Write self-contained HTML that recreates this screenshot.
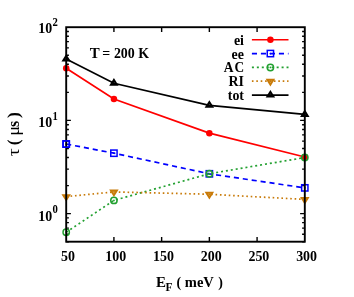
<!DOCTYPE html>
<html><head><meta charset="utf-8"><title>chart</title>
<style>html,body{margin:0;padding:0;background:#fff;}body{width:354px;height:297px;position:relative;overflow:hidden;font-family:"Liberation Serif",serif;}</style>
</head><body>
<svg width="354" height="297" viewBox="0 0 354 297" style="position:absolute;left:0;top:0;will-change:transform">
<rect width="354" height="297" fill="#fff"/>
<path d="M113.92,241.7 V237.0 M113.92,27.2 V31.9 M161.64,241.7 V237.0 M161.64,27.2 V31.9 M209.36,241.7 V237.0 M209.36,27.2 V31.9 M257.08,241.7 V237.0 M257.08,27.2 V31.9 M66.2,241.70 H68.9 M304.8,241.70 H302.1 M66.2,234.32 H68.9 M304.8,234.32 H302.1 M66.2,228.08 H68.9 M304.8,228.08 H302.1 M66.2,222.67 H68.9 M304.8,222.67 H302.1 M66.2,217.90 H68.9 M304.8,217.90 H302.1 M66.2,213.64 H70.9 M304.8,213.64 H300.1 M66.2,185.58 H68.9 M304.8,185.58 H302.1 M66.2,169.16 H68.9 M304.8,169.16 H302.1 M66.2,157.51 H68.9 M304.8,157.51 H302.1 M66.2,148.48 H68.9 M304.8,148.48 H302.1 M66.2,141.10 H68.9 M304.8,141.10 H302.1 M66.2,134.86 H68.9 M304.8,134.86 H302.1 M66.2,129.45 H68.9 M304.8,129.45 H302.1 M66.2,124.68 H68.9 M304.8,124.68 H302.1 M66.2,120.42 H70.9 M304.8,120.42 H300.1 M66.2,92.36 H68.9 M304.8,92.36 H302.1 M66.2,75.94 H68.9 M304.8,75.94 H302.1 M66.2,64.30 H68.9 M304.8,64.30 H302.1 M66.2,55.26 H68.9 M304.8,55.26 H302.1 M66.2,47.88 H68.9 M304.8,47.88 H302.1 M66.2,41.64 H68.9 M304.8,41.64 H302.1 M66.2,36.23 H68.9 M304.8,36.23 H302.1 M66.2,31.47 H68.9 M304.8,31.47 H302.1" stroke="#000" stroke-width="1.4" fill="none"/>
<path d="M66.20,68.34 L113.92,98.94 L209.36,133.16 L304.80,157.01" stroke="#ff0000" stroke-width="1.7" fill="none"/>
<circle cx="66.20" cy="68.34" r="3.25" fill="#ff0000"/>
<circle cx="113.92" cy="98.94" r="3.25" fill="#ff0000"/>
<circle cx="209.36" cy="133.16" r="3.25" fill="#ff0000"/>
<circle cx="304.80" cy="157.01" r="3.25" fill="#ff0000"/>
<path d="M66.20,144.04 L113.92,153.20 L209.36,173.80 L304.80,187.87" stroke="#0000ff" stroke-width="1.7" fill="none" stroke-dasharray="5.1 3.9"/>
<rect x="63.05" y="140.89" width="6.30" height="6.30" fill="none" stroke="#0000ff" stroke-width="1.5"/><circle cx="66.20" cy="144.04" r="0.9" fill="#0000ff"/>
<rect x="110.77" y="150.05" width="6.30" height="6.30" fill="none" stroke="#0000ff" stroke-width="1.5"/><circle cx="113.92" cy="153.20" r="0.9" fill="#0000ff"/>
<rect x="206.21" y="170.65" width="6.30" height="6.30" fill="none" stroke="#0000ff" stroke-width="1.5"/><circle cx="209.36" cy="173.80" r="0.9" fill="#0000ff"/>
<rect x="301.65" y="184.72" width="6.30" height="6.30" fill="none" stroke="#0000ff" stroke-width="1.5"/><circle cx="304.80" cy="187.87" r="0.9" fill="#0000ff"/>
<path d="M66.20,232.22 L113.92,200.39 L209.36,173.73 L304.80,157.51" stroke="#22a030" stroke-width="1.7" fill="none" stroke-dasharray="2.0 2.95"/>
<circle cx="66.20" cy="232.22" r="3.2" fill="none" stroke="#22a030" stroke-width="1.45"/><circle cx="66.20" cy="232.22" r="0.9" fill="#22a030"/>
<circle cx="113.92" cy="200.39" r="3.2" fill="none" stroke="#22a030" stroke-width="1.45"/><circle cx="113.92" cy="200.39" r="0.9" fill="#22a030"/>
<circle cx="209.36" cy="173.73" r="3.2" fill="none" stroke="#22a030" stroke-width="1.45"/><circle cx="209.36" cy="173.73" r="0.9" fill="#22a030"/>
<circle cx="304.80" cy="157.51" r="3.2" fill="none" stroke="#22a030" stroke-width="1.45"/><circle cx="304.80" cy="157.51" r="0.9" fill="#22a030"/>
<path d="M66.20,196.61 L113.92,191.92 L209.36,194.23 L304.80,199.44" stroke="#c87a08" stroke-width="1.7" fill="none" stroke-dasharray="1.6 2.8"/>
<path d="M63.25,195.13 L69.15,195.13 L66.20,199.91 Z" fill="none" stroke="#c87a08" stroke-width="2.0" stroke-linejoin="miter"/><circle cx="66.20" cy="196.61" r="0.9" fill="#c87a08"/>
<path d="M110.97,190.44 L116.87,190.44 L113.92,195.22 Z" fill="none" stroke="#c87a08" stroke-width="2.0" stroke-linejoin="miter"/><circle cx="113.92" cy="191.92" r="0.9" fill="#c87a08"/>
<path d="M206.41,192.76 L212.31,192.76 L209.36,197.54 Z" fill="none" stroke="#c87a08" stroke-width="2.0" stroke-linejoin="miter"/><circle cx="209.36" cy="194.23" r="0.9" fill="#c87a08"/>
<path d="M301.85,197.97 L307.75,197.97 L304.80,202.75 Z" fill="none" stroke="#c87a08" stroke-width="2.0" stroke-linejoin="miter"/><circle cx="304.80" cy="199.44" r="0.9" fill="#c87a08"/>
<path d="M66.20,59.08 L113.92,83.32 L209.36,105.38 L304.80,114.41" stroke="#000000" stroke-width="1.7" fill="none"/>
<path d="M63.25,60.55 L69.15,60.55 L66.20,55.78 Z" fill="none" stroke="#000000" stroke-width="2.0" stroke-linejoin="miter"/><circle cx="66.20" cy="59.08" r="0.9" fill="#000000"/>
<path d="M110.97,84.80 L116.87,84.80 L113.92,80.02 Z" fill="none" stroke="#000000" stroke-width="2.0" stroke-linejoin="miter"/><circle cx="113.92" cy="83.32" r="0.9" fill="#000000"/>
<path d="M206.41,106.85 L212.31,106.85 L209.36,102.07 Z" fill="none" stroke="#000000" stroke-width="2.0" stroke-linejoin="miter"/><circle cx="209.36" cy="105.38" r="0.9" fill="#000000"/>
<path d="M301.85,115.89 L307.75,115.89 L304.80,111.11 Z" fill="none" stroke="#000000" stroke-width="2.0" stroke-linejoin="miter"/><circle cx="304.80" cy="114.41" r="0.9" fill="#000000"/>
<path d="M251.9,39.75 H288.5" stroke="#ff0000" stroke-width="1.7" fill="none"/>
<circle cx="270.40" cy="39.75" r="3.25" fill="#ff0000"/>
<path d="M251.9,53.55 H288.5" stroke="#0000ff" stroke-width="1.7" fill="none" stroke-dasharray="5.1 3.9"/>
<rect x="267.25" y="50.40" width="6.30" height="6.30" fill="none" stroke="#0000ff" stroke-width="1.5"/><circle cx="270.40" cy="53.55" r="0.9" fill="#0000ff"/>
<path d="M251.9,67.45 H288.5" stroke="#22a030" stroke-width="1.7" fill="none" stroke-dasharray="2.0 2.95"/>
<circle cx="270.40" cy="67.45" r="3.2" fill="none" stroke="#22a030" stroke-width="1.45"/><circle cx="270.40" cy="67.45" r="0.9" fill="#22a030"/>
<path d="M251.9,81.2 H288.5" stroke="#c87a08" stroke-width="1.7" fill="none" stroke-dasharray="1.6 2.8"/>
<path d="M267.45,79.73 L273.35,79.73 L270.40,84.50 Z" fill="none" stroke="#c87a08" stroke-width="2.0" stroke-linejoin="miter"/><circle cx="270.40" cy="81.20" r="0.9" fill="#c87a08"/>
<path d="M251.9,95.1 H288.5" stroke="#000000" stroke-width="1.7" fill="none"/>
<path d="M267.45,96.57 L273.35,96.57 L270.40,91.80 Z" fill="none" stroke="#000000" stroke-width="2.0" stroke-linejoin="miter"/><circle cx="270.40" cy="95.10" r="0.9" fill="#000000"/>
<rect x="66.2" y="27.2" width="238.60000000000002" height="214.5" fill="none" stroke="#000" stroke-width="1.9"/>
<rect x="63.05" y="140.89" width="6.30" height="6.30" fill="none" stroke="#0000ff" stroke-width="1.5"/>
<text transform="translate(68.00,260.8) scale(0.93,1)" text-anchor="middle" style="font-family:'Liberation Serif',serif;font-weight:bold;font-size:15px;fill:#000;font-kerning:none" >50</text>
<text transform="translate(115.72,260.8) scale(0.93,1)" text-anchor="middle" style="font-family:'Liberation Serif',serif;font-weight:bold;font-size:15px;fill:#000;font-kerning:none" >100</text>
<text transform="translate(163.44,260.8) scale(0.93,1)" text-anchor="middle" style="font-family:'Liberation Serif',serif;font-weight:bold;font-size:15px;fill:#000;font-kerning:none" >150</text>
<text transform="translate(211.16,260.8) scale(0.93,1)" text-anchor="middle" style="font-family:'Liberation Serif',serif;font-weight:bold;font-size:15px;fill:#000;font-kerning:none" >200</text>
<text transform="translate(258.88,260.8) scale(0.93,1)" text-anchor="middle" style="font-family:'Liberation Serif',serif;font-weight:bold;font-size:15px;fill:#000;font-kerning:none" >250</text>
<text transform="translate(306.60,260.8) scale(0.93,1)" text-anchor="middle" style="font-family:'Liberation Serif',serif;font-weight:bold;font-size:15px;fill:#000;font-kerning:none" >300</text>
<text transform="translate(52.3,33.20) scale(0.93,1)" text-anchor="end" style="font-family:'Liberation Serif',serif;font-weight:bold;font-size:15px;fill:#000;font-kerning:none" >10</text>
<text transform="translate(52.6,25.80) scale(0.93,1)" text-anchor="start" style="font-family:'Liberation Serif',serif;font-weight:bold;font-size:11.5px;fill:#000;font-kerning:none" >2</text>
<text transform="translate(52.3,127.00) scale(0.93,1)" text-anchor="end" style="font-family:'Liberation Serif',serif;font-weight:bold;font-size:15px;fill:#000;font-kerning:none" >10</text>
<text transform="translate(52.6,119.60) scale(0.93,1)" text-anchor="start" style="font-family:'Liberation Serif',serif;font-weight:bold;font-size:11.5px;fill:#000;font-kerning:none" >1</text>
<text transform="translate(52.3,220.80) scale(0.93,1)" text-anchor="end" style="font-family:'Liberation Serif',serif;font-weight:bold;font-size:15px;fill:#000;font-kerning:none" >10</text>
<text transform="translate(52.6,213.40) scale(0.93,1)" text-anchor="start" style="font-family:'Liberation Serif',serif;font-weight:bold;font-size:11.5px;fill:#000;font-kerning:none" >0</text>
<text transform="translate(89.8,58.2) scale(0.997,1)" text-anchor="start" style="font-family:'Liberation Serif',serif;font-weight:bold;font-size:15px;fill:#000;font-kerning:none" >T</text>
<text transform="translate(102.3,58.2) scale(0.93,1)" text-anchor="start" style="font-family:'Liberation Serif',serif;font-weight:bold;font-size:15px;fill:#000;font-kerning:none" >=</text>
<text transform="translate(113.9,58.2) scale(0.93,1)" text-anchor="start" style="font-family:'Liberation Serif',serif;font-weight:bold;font-size:15px;fill:#000;font-kerning:none" >200</text>
<text transform="translate(138.2,58.2) scale(0.93,1)" text-anchor="start" style="font-family:'Liberation Serif',serif;font-weight:bold;font-size:15px;fill:#000;font-kerning:none" >K</text>
<text transform="translate(244.0,45.1) scale(0.93,1)" text-anchor="end" style="font-family:'Liberation Serif',serif;font-weight:bold;font-size:15px;fill:#000;font-kerning:none" >ei</text>
<text transform="translate(244.0,58.85) scale(0.93,1)" text-anchor="end" style="font-family:'Liberation Serif',serif;font-weight:bold;font-size:15px;fill:#000;font-kerning:none" >ee</text>
<text transform="translate(244.2,72.15) scale(0.89,1)" text-anchor="end" style="font-family:'Liberation Serif',serif;font-weight:bold;font-size:15px;fill:#000;font-kerning:none" >C</text>
<text transform="translate(233.4,72.15) scale(0.9,1)" text-anchor="end" style="font-family:'Liberation Serif',serif;font-weight:bold;font-size:15px;fill:#000;font-kerning:none" >A</text>
<text transform="translate(244.0,85.75) scale(0.93,1)" text-anchor="end" style="font-family:'Liberation Serif',serif;font-weight:bold;font-size:15px;fill:#000;font-kerning:none" >RI</text>
<text transform="translate(244.0,99.8) scale(0.93,1)" text-anchor="end" style="font-family:'Liberation Serif',serif;font-weight:bold;font-size:15px;fill:#000;font-kerning:none" >tot</text>
<text transform="translate(155.9,287.4) scale(0.997,1)" text-anchor="start" style="font-family:'Liberation Serif',serif;font-weight:bold;font-size:15px;fill:#000;font-kerning:none" >E</text>
<text transform="translate(165.5,291.2) scale(0.997,1)" text-anchor="start" style="font-family:'Liberation Serif',serif;font-weight:bold;font-size:11.5px;fill:#000;font-kerning:none" >F</text>
<text transform="translate(176.6,287.4) scale(0.93,1)" text-anchor="start" style="font-family:'Liberation Serif',serif;font-weight:bold;font-size:15px;fill:#000;font-kerning:none" >(</text>
<text transform="translate(184.8,287.4) scale(0.97,1)" text-anchor="start" style="font-family:'Liberation Serif',serif;font-weight:bold;font-size:15px;fill:#000;font-kerning:none" >meV</text>
<text transform="translate(218.2,287.4) scale(0.93,1)" text-anchor="start" style="font-family:'Liberation Serif',serif;font-weight:bold;font-size:15px;fill:#000;font-kerning:none" >)</text>
<g transform="translate(18.6,156) rotate(-90)"><text transform="translate(-0.2,0) scale(1.22,1.08)" style="font-family:'Liberation Serif',serif;font-weight:normal;font-size:16px;fill:#000;font-kerning:none">τ</text><text transform="translate(10.7,0.6) scale(1.1,1.0)" style="font-family:'Liberation Serif',serif;font-weight:bold;font-size:16px;fill:#000;font-kerning:none">(</text><text transform="translate(20.3,0) scale(1.13,1.0)" style="font-family:'Liberation Serif',serif;font-weight:normal;font-size:16px;fill:#000;font-kerning:none">μ</text><text transform="translate(29.0,0) scale(1.0,1.0)" style="font-family:'Liberation Serif',serif;font-weight:bold;font-size:16px;fill:#000;font-kerning:none">s</text><text transform="translate(37.9,0.6) scale(1.1,1.0)" style="font-family:'Liberation Serif',serif;font-weight:bold;font-size:16px;fill:#000;font-kerning:none">)</text></g>
</svg>
</body></html>
